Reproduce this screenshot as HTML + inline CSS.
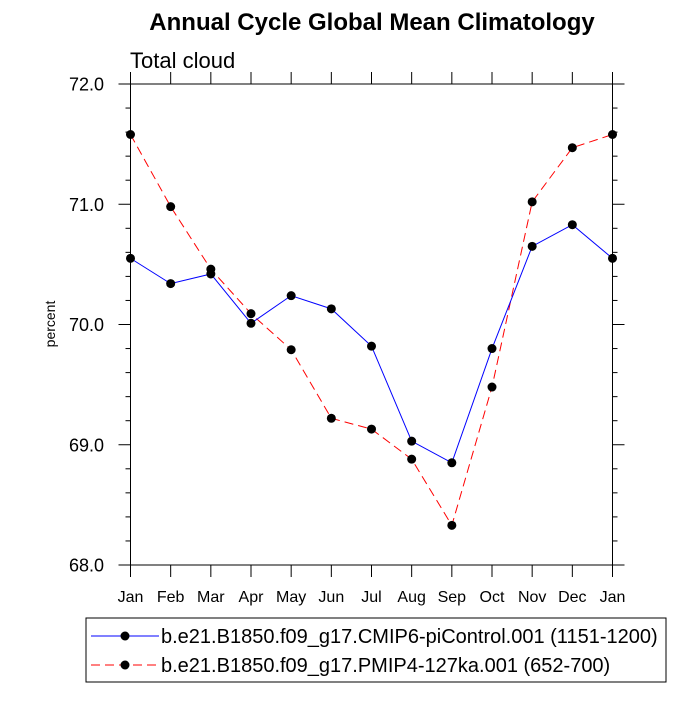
<!DOCTYPE html>
<html><head><meta charset="utf-8"><style>
body{margin:0;background:#fff}
svg{font-family:"Liberation Sans",sans-serif}
</style></head><body>
<svg width="700" height="700" viewBox="0 0 700 700">
<text x="372" y="30" text-anchor="middle" font-size="24" font-weight="bold">Annual Cycle Global Mean Climatology</text>
<text x="130" y="68" font-size="22">Total cloud</text>
<text transform="translate(55,324) rotate(-90)" text-anchor="middle" font-size="14">percent</text>
<g id="axes"></g>
<g id="series"></g>
<rect x="86" y="618" width="580" height="64" fill="none" stroke="#000" stroke-width="1"/>
<g>
<line x1="91" y1="636" x2="159" y2="636" stroke="#00f" stroke-width="1"/>
<circle cx="125" cy="636" r="4.5" fill="#000"/>
<text x="161" y="643" font-size="20">b.e21.B1850.f09_g17.CMIP6-piControl.001 (1151-1200)</text>
</g>
<g>
<line x1="91" y1="665" x2="159" y2="665" stroke="#f00" stroke-width="1" stroke-dasharray="9,5"/>
<circle cx="125" cy="665" r="4.5" fill="#000"/>
<text x="161" y="672" font-size="20">b.e21.B1850.f09_g17.PMIP4-127ka.001 (652-700)</text>
</g>
</svg>
<script>
const months=["Jan","Feb","Mar","Apr","May","Jun","Jul","Aug","Sep","Oct","Nov","Dec","Jan"];
const piControl=[70.55,70.34,70.42,70.01,70.24,70.13,69.82,69.03,68.85,69.80,70.65,70.83,70.55];
const ka127=[71.58,70.98,70.46,70.09,69.79,69.22,69.13,68.88,68.33,69.48,71.02,71.47,71.58];
const yTicks=[68,69,70,71,72];
const yTickLabels=["68.0","69.0","70.0","71.0","72.0"];
const X0=130.5,X1=612.5,Y0=565,Y1=84,YMIN=68,YMAX=72;
const xs=i=>X0+(X1-X0)*i/(months.length-1);
const ys=v=>Y0-(v-YMIN)/(YMAX-YMIN)*(Y0-Y1);
const NS="http://www.w3.org/2000/svg";
function mk(t,a,p){const e=document.createElementNS(NS,t);for(const k in a)e.setAttribute(k,a[k]);p.appendChild(e);return e;}
const ax=document.getElementById('axes');
const fr=mk('rect',{x:X0,y:Y1,width:X1-X0,height:Y0-Y1,fill:'none',stroke:'#000','stroke-width':1},ax);


months.forEach((m,i)=>{
  const x=xs(i);
  mk('line',{x1:x,y1:Y0,x2:x,y2:Y0+12,stroke:'#000'},ax);
  mk('line',{x1:x,y1:Y1,x2:x,y2:Y1-12,stroke:'#000'},ax);
  const t=mk('text',{x:x,y:602,'text-anchor':'middle','font-size':16},ax);
  t.textContent=m;
  
  
});
for(let v=YMIN;v<=YMAX+1e-9;v+=0.2){
  const y=ys(v);const major=Math.abs(v-Math.round(v))<1e-6;const L=major?12:5;
  mk('line',{x1:X0,y1:y,x2:X0-L,y2:y,stroke:'#000'},ax);
  mk('line',{x1:X1,y1:y,x2:X1+L,y2:y,stroke:'#000'},ax);
}
yTicks.forEach((v,i)=>{
  const t=mk('text',{x:104,y:ys(v)+6.5,'text-anchor':'end','font-size':18},ax);
  t.textContent=yTickLabels[i];
  
  
});
const sg=document.getElementById('series');
function series(vals,color,dash,name){
  const g=mk('g',{},sg);
  
  
  const p=mk('polyline',{points:vals.map((v,i)=>xs(i)+','+ys(v)).join(' '),fill:'none',stroke:color,'stroke-width':1},g);
  if(dash)p.setAttribute('stroke-dasharray',dash);
  vals.forEach((v,i)=>{
    const c=mk('circle',{cx:xs(i),cy:ys(v),r:4.5,fill:'#000'},g);
    
    
  });
}
series(ka127,'#f00','9,5','series-127ka');
series(piControl,'#00f',null,'series-picontrol');
</script>
</body></html>
